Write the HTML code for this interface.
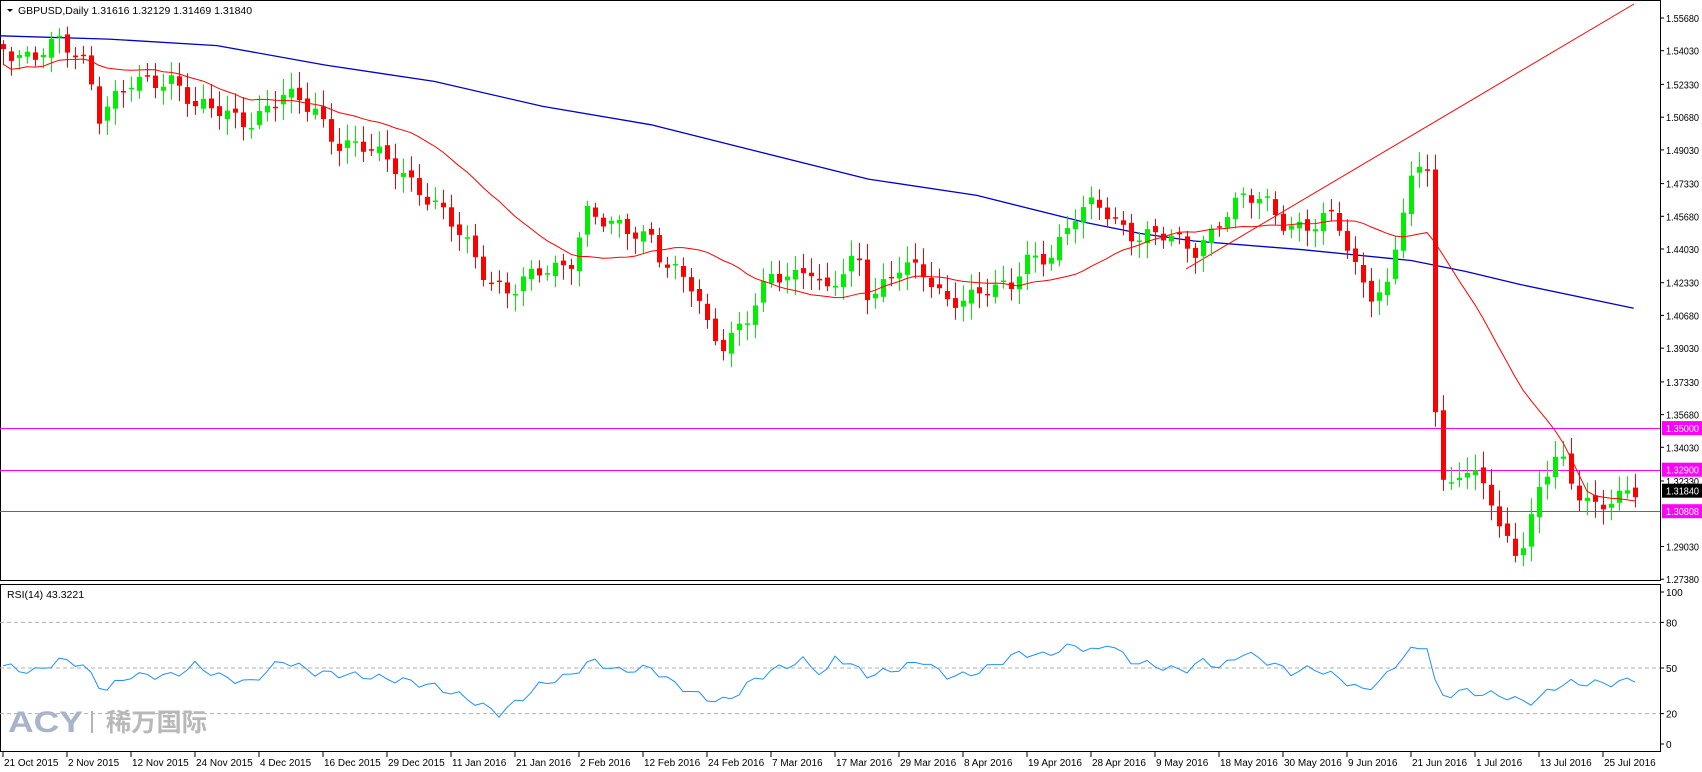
<!DOCTYPE html>
<html><head><meta charset="utf-8"><style>
html,body{margin:0;padding:0;background:#fff;}
svg{display:block;font-family:"Liberation Sans","Noto Sans CJK SC",sans-serif;}
</style></head><body>
<svg id="c" width="1702" height="772" xmlns="http://www.w3.org/2000/svg"></svg>
<script>
(function(){
var NS="http://www.w3.org/2000/svg";
var S=document.getElementById('c');
function el(tag,a,txt){var e=document.createElementNS(NS,tag);for(var k in a){e.setAttribute(k,String(a[k]));}if(txt!==undefined){e.textContent=txt;}S.appendChild(e);return e;}
function Y(p){return 18+(1.5568-p)*1983;}
function R(v){return 744-v*1.52;}
var K=1.0855;
var A=[[0,40],[30,55],[55,40],[80,55],[90,105],[120,80],[160,70],[180,100],[230,110],[260,90],[290,100],[310,130],[340,140],[370,155],[400,190],[430,225],[450,255],[470,270],[500,250],[525,240],[540,195],[560,210],[600,215],[610,240],[640,270],[650,300],[665,315],[690,290],[710,258],[730,255],[745,240],[760,270],[790,240],[800,275],[830,240],[850,255],[870,280],[890,270],[910,265],[930,270],[945,240],[970,230],[990,200],[1010,190],[1025,200],[1045,215],[1075,220],[1100,230],[1125,200],[1145,185],[1165,185],[1185,205],[1210,210],[1230,200],[1245,240],[1265,270],[1280,265],[1288,210],[1300,170],[1315,150],[1321,365],[1330,450],[1345,430],[1355,440],[1370,450],[1380,490],[1395,505],[1405,495],[1420,440],[1435,420],[1450,455],[1470,465],[1485,455],[1505,455]];
function interp(arr,x){for(var i=0;i<arr.length-1;i++){if(x<=arr[i+1][0]){var t=(x-arr[i][0])/(arr[i+1][0]-arr[i][0]);return arr[i][1]+t*(arr[i+1][1]-arr[i][1]);}}return arr[arr.length-1][1];}
var N=205,cl=[],i,j,s;
for(i=0;i<N;i++){var ax=3+8*i;var ay=interp(A,ax/K)*K;ay+=Math.sin(i*1.7)*7+Math.sin(i*0.63+1)*5;cl.push(ay);}
el('rect',{x:0.5,y:0.5,width:1660,height:580,fill:'none',stroke:'#000'});
el('rect',{x:0.5,y:584.5,width:1660,height:167,fill:'none',stroke:'#000'});
[1.35,1.329,1.30808].forEach(function(p){var y=Math.round(Y(p))+0.5;el('line',{x1:0,x2:1660,y1:y,y2:y,stroke:'#ff00ff'});});
var B=[[0,33],[100,36],[200,42],[300,60],[400,75],[500,98],[600,115],[700,140],[800,165],[900,180],[1000,205],[1050,215],[1100,222],[1200,230],[1300,240],[1350,250],[1400,262],[1505,284]];
el('polyline',{fill:'none',stroke:'#0000cc','stroke-width':1.3,points:B.map(function(p){return (p[0]*K).toFixed(1)+','+(p[1]*K).toFixed(1);}).join(' ')});
el('line',{x1:1186,y1:269,x2:1634,y2:4,stroke:'#ff0000'});
var big=Math.round((1321*K-3)/8);
for(i=0;i<N;i++){var x=3+8*i;var c=cl[i];var o=i?cl[i-1]+Math.sin(i*2.3)*3:c-5;
 if(i==big){o=cl[i-1];}
 var up=c<o,col=up?'#00ee00':'#ff0000';var top=Math.min(o,c),bot=Math.max(o,c);
 if(bot-top<1.5){bot=top+1.5;}
 var hi=top-4-Math.abs(Math.sin(i*3.1))*12,lo=bot+4+Math.abs(Math.cos(i*2.7))*12;
 el('line',{x1:x+0.5,x2:x+0.5,y1:hi.toFixed(1),y2:lo.toFixed(1),stroke:col});
 el('rect',{x:x-2,y:top.toFixed(1),width:5,height:(bot-top).toFixed(1),fill:col});}
var pts=[];
for(i=0;i<N;i++){s=0;var n=0;for(j=Math.max(0,i-19);j<=i;j++){s+=cl[j];n++;}var v=s/n+(i<19?15*(19-i)/19:0);pts.push((3+8*i)+','+v.toFixed(1));}
el('polyline',{fill:'none',stroke:'#ff0000',points:pts.join(' ')});
var L=['1.55680','1.54030','1.52330','1.50680','1.49030','1.47330','1.45680','1.44030','1.42330','1.40680','1.39030','1.37330','1.35680','1.34030','1.32330','1.29030','1.27380'];
L.forEach(function(t){var y=Y(parseFloat(t));el('line',{x1:1660,x2:1664,y1:y.toFixed(1),y2:y.toFixed(1),stroke:'#000'});el('text',{x:1666,y:(y+4).toFixed(1),'font-size':10,textLength:33,lengthAdjust:'spacingAndGlyphs'},t);});
function box(p,t,bg){var y=Y(p);el('rect',{x:1662,y:(y-7).toFixed(1),width:40,height:14,fill:bg});el('text',{x:1666,y:(y+4).toFixed(1),'font-size':10,fill:'#fff',textLength:33,lengthAdjust:'spacingAndGlyphs'},t);}
box(1.35,'1.35000','#ff00ff');box(1.329,'1.32900','#ff00ff');box(1.30808,'1.30808','#ff00ff');box(1.3184,'1.31840','#000');
el('path',{d:'M7,9 L13,9 L10,12Z',fill:'#000'});
el('text',{x:18,y:14,'font-size':10.5,'xml:space':'preserve'},'GBPUSD,Daily  1.31616 1.32129 1.31469 1.31840');
el('text',{x:7,y:598,'font-size':10.5},'RSI(14) 43.3221');
[80,50,20].forEach(function(v){var y=R(v);el('line',{x1:0,x2:1660,y1:y,y2:y,stroke:'#b0b0b0','stroke-dasharray':'4,3'});});
[[100,592],[80,R(80)],[50,R(50)],[20,R(20)],[0,744]].forEach(function(a){el('line',{x1:1660,x2:1664,y1:a[1],y2:a[1],stroke:'#000'});el('text',{x:1666,y:a[1]+4,'font-size':10},String(a[0]));});
var RS=[[0,52],[30,47],[55,55],[75,53],[95,35],[120,45],[160,45],[180,52],[200,45],[230,40],[260,55],[290,47],[330,45],[370,42],[400,38],[430,30],[460,20],[475,27],[500,40],[525,45],[545,55],[570,48],[600,50],[620,40],[650,30],[670,28],[690,40],[710,48],[740,55],[760,45],[770,58],[800,45],[830,50],[850,55],[870,45],[890,45],[910,50],[940,60],[960,58],[990,65],[1010,60],[1020,67],[1040,55],[1060,52],[1090,48],[1110,55],[1125,50],[1145,60],[1165,55],[1190,47],[1210,50],[1235,43],[1255,35],[1275,43],[1295,60],[1315,65],[1325,30],[1345,35],[1365,33],[1385,32],[1400,28],[1415,28],[1430,37],[1445,40],[1470,40],[1490,40],[1505,43]];
var rp=[];for(i=0;i<N;i++){var xx=3+8*i;var vv=interp(RS,xx/K)+Math.sin(i*1.9)*2.5;rp.push(xx+','+R(vv).toFixed(1));}
el('polyline',{fill:'none',stroke:'#1e90ff',points:rp.join(' ')});
el('text',{x:8,y:732,'font-size':30,'font-weight':'bold',fill:'#aab4c8',textLength:75,lengthAdjust:'spacingAndGlyphs'},'ACY');
el('rect',{x:91,y:711,width:2,height:22,fill:'#b4b4b4'});
el('text',{x:106,y:731,'font-size':25,'font-weight':'bold',fill:'#b8b8b8',textLength:101,lengthAdjust:'spacingAndGlyphs'},'稀万国际');
var D=['21 Oct 2015','2 Nov 2015','12 Nov 2015','24 Nov 2015','4 Dec 2015','16 Dec 2015','29 Dec 2015','11 Jan 2016','21 Jan 2016','2 Feb 2016','12 Feb 2016','24 Feb 2016','7 Mar 2016','17 Mar 2016','29 Mar 2016','8 Apr 2016','19 Apr 2016','28 Apr 2016','9 May 2016','18 May 2016','30 May 2016','9 Jun 2016','21 Jun 2016','1 Jul 2016','13 Jul 2016','25 Jul 2016'];
D.forEach(function(t,k){var x=3+64*k;el('line',{x1:x,x2:x,y1:752,y2:757,stroke:'#000'});el('text',{x:x+1,y:766,'font-size':10},t);});
})();
</script>
</body></html>
